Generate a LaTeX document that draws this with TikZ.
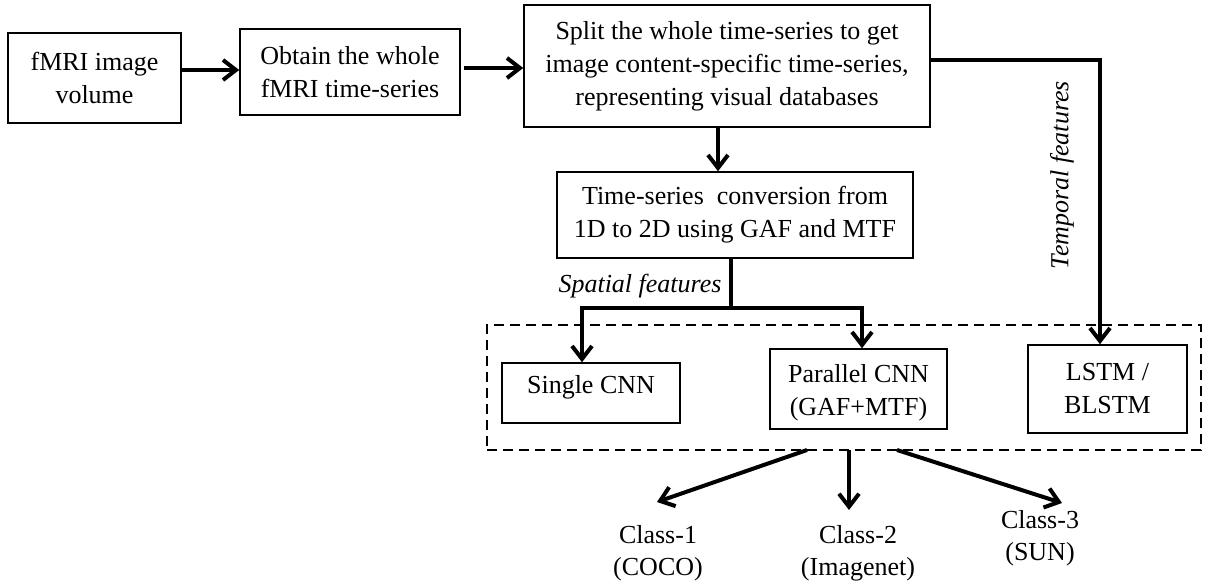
\documentclass[tikz,border=0pt]{standalone}
\usepackage{fontspec}
\setmainfont{Liberation Serif}
\usetikzlibrary{arrows.meta}
\begin{document}
\begin{tikzpicture}[x=1pt,y=-1pt,
 box/.style={draw, line width=1.5pt, inner sep=0pt, align=center, font=\fontsize{26}{33}\selectfont},
 conn/.style={line width=4pt, -{Straight Barb[length=13pt,width=20pt]}},
 plain/.style={line width=4pt},
 lbl/.style={font=\fontsize{26}{33}\selectfont\itshape, inner sep=0pt},
 cls/.style={align=center, font=\fontsize{26}{32}\selectfont, inner sep=0pt},
 group/.style={draw, line width=2.5pt, dash pattern=on 10pt off 6pt, inner sep=0pt}]
\useasboundingbox (0,0) rectangle (1207,585);
% boxes
\node[box, minimum width=173pt, minimum height=90pt] (fmri) at (94.5,78) {fMRI image\\volume};
\node[box, minimum width=220pt, minimum height=86pt] (obtain) at (350,72) {Obtain the whole\\fMRI time-series};
\node[box, minimum width=406pt, minimum height=122pt] (split) at (727,66) {Split the whole time-series to get\\image content-specific time-series,\\representing visual databases};
\node[box, minimum width=356pt, minimum height=86pt] (ts) at (735,215) {Time-series~~conversion from\\1D to 2D using GAF and MTF};
\node[group, minimum width=714pt, minimum height=125pt] (grp) at (844,387.5) {};
\node[box, minimum width=178pt, minimum height=60pt] (single) at (591,393) {\raisebox{0pt}[0pt][0pt]{Single CNN}};
\node[box, minimum width=177pt, minimum height=80pt] (parallel) at (858.5,389) {\raisebox{-10pt}[0pt][0pt]{\begin{tabular}{@{}c@{}}Parallel~CNN\\(GAF+MTF)\end{tabular}}};
\node[box, minimum width=159pt, minimum height=88pt] (lstm) at (1107.5,389) {LSTM /\\BLSTM};
% labels
\node[lbl] (spatial) at (640,286) {Spatial features};
\node[lbl, rotate=90] (temporal) at (1062,175) {Temporal features};
\node[cls] (c1) at (658,553) {Class-1\\(COCO)};
\node[cls] (c2) at (858,553) {Class-2\\(Imagenet)};
\node[cls] (c3) at (1040,538) {Class-3\\(SUN)};
% coordinates
\coordinate (tcorner) at (1100,60);
\coordinate (sjoin) at (731,308);
\coordinate (sleft) at (582,308);
\coordinate (sright) at (862,308);
\coordinate (o1) at (807,450);
\coordinate (o2) at (849,450);
\coordinate (o3) at (897,450);
\coordinate (t1) at (657,502);
\coordinate (t2) at (849,510);
\coordinate (t3) at (1062,503);
% connectors
\draw[conn] (fmri.east |- 0,70) -- (obtain.west |- 0,70);
\draw[conn] ([xshift=3pt]obtain.east |- 0,68) -- (split.west |- 0,68);
\draw[conn] (split.south -| 718,0) -- (ts.north -| 718,0);
\draw[conn] (split.east |- tcorner) -- (tcorner) -- (tcorner |- lstm.north);
\draw[plain] (ts.south -| sjoin) -- (sjoin);
\draw[conn] (sjoin) -- (sleft) -- (sleft |- single.north);
\draw[conn] (sjoin) -- (sright) -- (sright |- parallel.north);
\draw[conn] (o1) -- (t1);
\draw[conn] (o2) -- (t2);
\draw[conn] (o3) -- (t3);
\end{tikzpicture}
\end{document}
